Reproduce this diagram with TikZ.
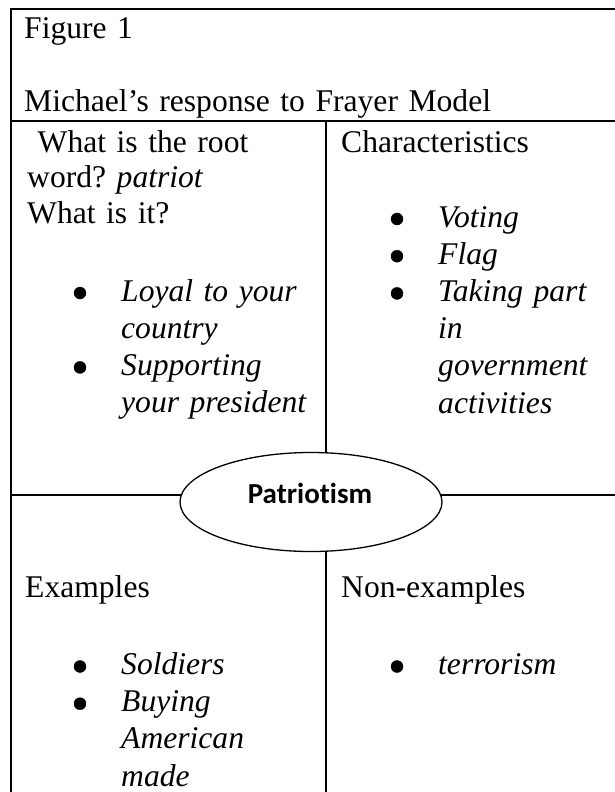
\documentclass[tikz,border=0pt]{standalone}
\usepackage{fontspec}
\setmainfont{Liberation Serif}
\newfontfamily\calibri[Ligatures=NoCommon]{Carlito}
\usetikzlibrary{shapes.geometric}
\frenchspacing

\begin{document}
\begin{tikzpicture}[x=1bp,y=-1bp,
    cell/.style={anchor=base west,inner sep=0pt,align=left,text width=#1,
      font=\fontsize{31.6bp}{35.7bp}\selectfont},
    cell/.default=280bp,
    entry/.style={cell=#1,font=\fontsize{31.6bp}{37.2bp}\selectfont\itshape},
    frame/.style={line width=1.8bp},
    rule/.style={line width=1.3bp}]
\useasboundingbox (0,0) rectangle (615,792);
% corners and ends of the table lines
\coordinate (tl) at (11,9);
\coordinate (tr) at (615,9);
\coordinate (bl) at (11,792);
\coordinate (hl) at (11,121);
\coordinate (hr) at (615,121);
\coordinate (vt) at (326,121);
\coordinate (vb) at (326,792);
\coordinate (ml) at (11,495);
\coordinate (mr) at (615,495);
\draw[frame] (bl) -- (tl) -- (tr);
\draw[rule] (hl) -- (hr);
% centre word
\node[draw,ellipse,rule,minimum width=262bp,minimum height=99bp,inner sep=0pt] (core) at (311,502) {};
\node[anchor=base,inner sep=0pt,font=\calibri\bfseries\fontsize{29bp}{34bp}\selectfont] (word) at (310,503) {Patriotism};
\draw[rule] (vt) -- (vt |- core.73);
\draw[rule] (vb |- core.-73) -- (vb);
\draw[rule] (ml) -- (ml -| core.177);
\draw[rule] (mr -| core.3) -- (mr);
% heading
\node[cell=580bp] (fig) at (24,39) {Figure 1};
\node[cell=580bp] (title) at (24,111) {Michael’s response to Frayer Model};
% top left
\node[cell] (root) at (27,152) {\ What is the root\\word? \textit{patriot}\\What is it?};
\node[entry=200bp] (defn) at (121,301) {\makebox[190bp][s]{Loyal to your}\\country\\Supporting\\your president};
\draw [fill] (80,293) circle [radius=6];
\draw [fill] (80,367.4) circle [radius=6];
% top right
\node[cell] (char) at (341,152) {Characteristics};
\node[entry=175bp] (traits) at (438,227) {Voting\\Flag\\Taking part\\in\\government\\activities};
\draw [fill] (397,219) circle [radius=6];
\draw [fill] (397,256.2) circle [radius=6];
\draw [fill] (397,293.4) circle [radius=6];
% bottom left
\node[cell] (ex) at (25,597) {Examples};
\node[entry=200bp] (exlist) at (121,674.5) {Soldiers\\Buying\\American\\made};
\draw [fill] (80,666.5) circle [radius=6];
\draw [fill] (80,703.7) circle [radius=6];
% bottom right
\node[cell] (nonex) at (341,597) {Non-examples};
\node[entry=175bp] (nonlist) at (438,674.5) {terrorism};
\draw [fill] (397,666.5) circle [radius=6];
\end{tikzpicture}
\end{document}
